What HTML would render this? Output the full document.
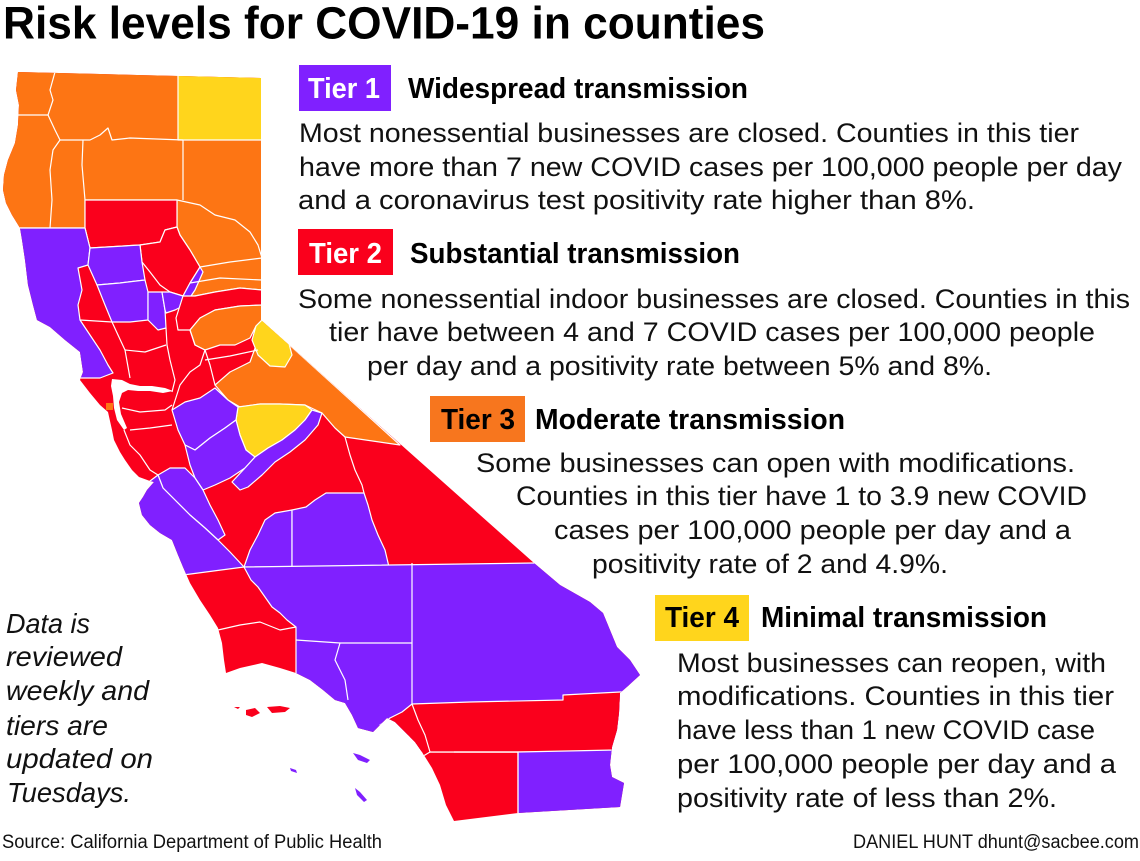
<!DOCTYPE html>
<html><head><meta charset="utf-8"><style>
html,body{margin:0;padding:0;background:#fff;}
svg{display:block;}
text{font-family:"Liberation Sans",Arial,sans-serif;}
.b{font-weight:bold;}
.t{font-size:27px;fill:#111;}
</style></head><body>
<svg width="1140" height="861" viewBox="0 0 1140 861" xmlns="http://www.w3.org/2000/svg">
<rect width="1140" height="861" fill="#fff"/>
<defs>
<clipPath id="ca"><path d="M18,72 L100,74 L178,76 L261,78 L261,320 L534,563 L560,585 L590,602 L603,613 L610,630 L617,647 L630,660 L640,675 L628,686 L620,693 L619,713 L617,730 L612,747 L610,765 L612,777 L624,783 L622,795 L620,807 L518,813 L454,821 L446,805 L440,785 L432,768 L422,752 L415,742 L405,732 L395,722 L387,718 L373,732 L358,728 L352,715 L345,703 L335,700 L323,690 L310,680 L296,673 L280,668 L262,663 L240,668 L226,673 L224,660 L222,643 L218,628 L210,615 L200,600 L190,583 L183,567 L178,555 L172,540 L160,533 L150,525 L142,515 L139,503 L143,497 L147,490 L154,482 L150,481 L139,477 L132,470 L125,460 L120,452 L114,440 L112,430 L108,412 L100,405 L90,393 L80,380 L83,372 L80,352 L65,340 L50,327 L37,320 L33,305 L28,285 L25,260 L22,240 L20,228 L12,215 L6,203 L3,190 L4,175 L8,160 L15,143 L18,125 L19,105 L16,90 Z"/></clipPath>
</defs>
<g clip-path="url(#ca)" stroke="#fff" stroke-width="1.2" stroke-linejoin="round">
<rect x="0" y="60" width="700" height="780" fill="#fa001c" stroke="none"/>
<polygon fill="#fd7514" points="0,50 280,50 280,290 262,290 240,288 215,292 195,296 183,296 190,283 200,267 190,250 180,235 177,227 177,200 85,200 85,228 0,228"/>
<polygon fill="#ffd51c" points="178,50 280,50 280,140 178,140"/>
<polygon fill="#fa001c" points="85,200 177,200 177,227 165,230 160,242 140,245 90,248 85,228"/>
<polygon fill="#fa001c" points="140,245 160,242 165,230 177,227 180,235 190,250 200,267 190,283 183,296 170,292 160,285 150,272 142,262"/>
<polygon fill="#8020ff" points="0,228 85,228 90,248 88,265 78,268 82,290 78,305 80,320 90,335 100,350 108,365 113,373 100,378 0,378"/>
<polygon fill="#8020ff" points="90,248 140,245 142,262 145,280 120,283 97,285 88,265"/>
<polygon fill="#8020ff" points="97,285 120,283 145,280 148,292 148,320 130,322 112,322 105,305"/>
<polygon fill="#8020ff" points="148,292 162,292 165,310 166,328 158,330 148,320"/>
<polygon fill="#8020ff" points="162,292 170,292 183,296 190,283 200,267 203,272 195,290 185,305 175,310 166,313 165,310"/>
<polygon fill="#fa001c" points="176,318 183,296 195,296 215,292 240,288 262,290 262,305 240,306 215,310 200,318 190,330 178,330"/>
<polygon fill="#fd7514" points="190,330 200,318 215,310 240,306 262,305 262,320 256,326 250,338 235,345 220,345 205,350 195,345"/>
<polygon fill="#fd7514" points="215,385 230,372 250,362 258,340 262,320 400,445 345,437 335,428 322,413 305,405 280,404 260,404 240,407 228,400"/>
<polygon fill="#ffd51c" points="256,326 262,320 275,330 288,340 292,355 285,367 270,366 258,355 252,340"/>
<polygon fill="#ffd51c" points="238,407 260,404 280,404 305,405 312,410 305,420 295,430 282,440 268,448 255,457 246,450 240,435 236,420"/>
<polygon fill="#8020ff" points="172,410 185,402 200,398 215,388 228,400 238,407 236,420 225,428 210,438 195,450 185,445 178,430"/>
<polygon fill="#8020ff" points="185,445 195,450 210,438 225,428 236,420 240,435 246,450 255,457 245,468 230,478 215,485 203,490 195,478 190,465"/>
<polygon fill="#8020ff" points="255,457 268,448 282,440 295,430 305,420 312,410 322,413 318,425 305,440 290,452 275,462 262,475 248,487 240,490 232,482 245,468"/>
<polygon fill="#8020ff" points="158,475 170,468 185,468 195,478 203,490 210,505 218,520 225,535 218,540 205,528 190,515 175,500 163,488"/>
<polygon fill="#8020ff" points="130,498 150,481 158,475 163,488 175,500 190,515 205,528 218,540 230,552 244,567 183,575 160,545 135,520"/>
<polygon fill="#8020ff" points="244,567 250,550 258,535 265,520 275,513 292,510 292,567"/>
<polygon fill="#8020ff" points="292,510 306,507 315,500 326,493 364,493 368,505 372,520 378,535 385,550 389,567 292,567"/>
<polygon fill="#8020ff" points="244,567 534,563 700,563 700,752 412,752 296,752 296,640 296,627 287,620 280,613 272,607 265,597 258,587 251,580"/>
<polygon fill="#fa001c" points="412,704 470,702 563,700 563,695 620,692 700,690 700,752 412,752 408,730"/>
<polygon fill="#fa001c" points="380,725 390,718 402,712 412,704 418,720 425,735 430,752 420,758"/>
<polygon fill="#8020ff" points="518,752 615,750 615,777 640,783 640,830 518,830"/>
<rect x="106" y="403" width="7" height="7" fill="#fd7514" stroke="none"/>
<g fill="none">
<polyline points="55,72 50,90 53,100 48,115"/>
<polyline points="18,115 48,115"/>
<polyline points="48,115 55,130 60,140 53,150 50,170 52,200 50,228"/>
<polyline points="60,140 90,140 100,135 108,128 112,140 130,138 183,140"/>
<polyline points="83,140 82,165 85,200"/>
<polyline points="183,140 183,200"/>
<polyline points="177,200 200,205 215,215 235,220 250,232 258,245 262,258"/>
<polyline points="200,267 230,262 262,258"/>
<polyline points="190,283 220,278 262,280"/>
<polyline points="80,320 112,322"/>
<polyline points="112,322 118,335 125,350 130,378"/>
<polyline points="125,350 145,352 166,345"/>
<polyline points="166,328 167,345 170,360 175,380 172,392"/>
<polyline points="190,330 195,345 205,350 200,365 190,372 180,385 172,410"/>
<polyline points="122,408 140,412 165,410 172,405"/>
<polyline points="205,350 210,365 215,385"/>
<polyline points="205,360 230,356 258,350"/>
<polyline points="124,430 130,445 140,455 150,470 158,475"/>
<polyline points="130,430 150,428 172,425"/>
<polyline points="345,437 350,455 355,470 362,485 364,493"/>
<polyline points="218,630 240,625 260,622 280,630 296,627"/>
<polyline points="412,563 412,705"/>
<polyline points="296,640 340,643 412,643"/>
<polyline points="340,643 335,660 345,680 348,700"/>
<polyline points="454,752 518,752 518,820"/>
</g>
<path fill="#fff" stroke="none" d="M112,379 L122,380 L130,384 L140,386 L152,386 L165,388 L173,391 L163,393 L150,391 L138,391 L128,390 L122,393 L119,402 L121,414 L127,428 L124,430 L117,420 L114,408 L113,396 L111,386 Z"/>
</g>
<g stroke="none">
<path fill="#fa001c" d="M246,710 L255,708 L260,713 L252,717 L246,715 Z"/>
<path fill="#fa001c" d="M267,707 L280,706 L290,708 L285,712 L272,713 Z"/>
<path fill="#fa001c" d="M234,707 L240,707 L238,709 Z"/>
<path fill="#8020ff" d="M353,753 L360,755 L370,760 L367,763 L358,760 Z"/>
<path fill="#8020ff" d="M290,768 L296,770 L297,773 L291,771 Z"/>
<path fill="#8020ff" d="M355,788 L360,792 L367,800 L364,802 L357,795 Z"/>
</g>

<text x="3" y="38.5" class="b" font-size="45" fill="#000" textLength="762" lengthAdjust="spacingAndGlyphs">Risk levels for COVID-19 in counties</text>

<rect x="299" y="65" width="92" height="46" fill="#8020ff"/>
<text x="308" y="98" class="b" font-size="29" fill="#fff" textLength="72" lengthAdjust="spacingAndGlyphs">Tier 1</text>
<text x="408" y="98" class="b" font-size="29" fill="#000" textLength="340" lengthAdjust="spacingAndGlyphs">Widespread transmission</text>
<text x="299" y="142" class="t" textLength="780" lengthAdjust="spacingAndGlyphs">Most nonessential businesses are closed. Counties in this tier</text>
<text x="299" y="176" class="t" textLength="823" lengthAdjust="spacingAndGlyphs">have more than 7 new COVID cases per 100,000 people per day</text>
<text x="298" y="209" class="t" textLength="677" lengthAdjust="spacingAndGlyphs">and a coronavirus test positivity rate higher than 8%.</text>

<rect x="298" y="229" width="95" height="46" fill="#fa001c"/>
<text x="309" y="263" class="b" font-size="29" fill="#fff" textLength="73" lengthAdjust="spacingAndGlyphs">Tier 2</text>
<text x="410" y="263" class="b" font-size="29" fill="#000" textLength="330" lengthAdjust="spacingAndGlyphs">Substantial transmission</text>
<text x="298" y="308" class="t" textLength="832" lengthAdjust="spacingAndGlyphs">Some nonessential indoor businesses are closed. Counties in this</text>
<text x="329" y="341" class="t" textLength="766" lengthAdjust="spacingAndGlyphs">tier have between 4 and 7 COVID cases per 100,000 people</text>
<text x="367" y="375" class="t" textLength="625" lengthAdjust="spacingAndGlyphs">per day and a positivity rate between 5% and 8%.</text>

<rect x="430" y="396" width="95" height="46" fill="#f7761e"/>
<text x="441" y="429" class="b" font-size="29" fill="#000" textLength="74" lengthAdjust="spacingAndGlyphs">Tier 3</text>
<text x="535" y="429" class="b" font-size="29" fill="#000" textLength="310" lengthAdjust="spacingAndGlyphs">Moderate transmission</text>
<text x="476" y="472" class="t" textLength="599" lengthAdjust="spacingAndGlyphs">Some businesses can open with modifications.</text>
<text x="516" y="505" class="t" textLength="571" lengthAdjust="spacingAndGlyphs">Counties in this tier have 1 to 3.9 new COVID</text>
<text x="554" y="539" class="t" textLength="517" lengthAdjust="spacingAndGlyphs">cases per 100,000 people per day and a</text>
<text x="592" y="573" class="t" textLength="356" lengthAdjust="spacingAndGlyphs">positivity rate of 2 and 4.9%.</text>

<rect x="655" y="595" width="94" height="46" fill="#ffd51c"/>
<text x="665" y="627" class="b" font-size="29" fill="#000" textLength="74" lengthAdjust="spacingAndGlyphs">Tier 4</text>
<text x="761" y="627" class="b" font-size="29" fill="#000" textLength="286" lengthAdjust="spacingAndGlyphs">Minimal transmission</text>
<text x="677" y="672" class="t" textLength="429" lengthAdjust="spacingAndGlyphs">Most businesses can reopen, with</text>
<text x="677" y="705" class="t" textLength="437" lengthAdjust="spacingAndGlyphs">modifications. Counties in this tier</text>
<text x="677" y="739" class="t" textLength="418" lengthAdjust="spacingAndGlyphs">have less than 1 new COVID case</text>
<text x="677" y="773" class="t" textLength="439" lengthAdjust="spacingAndGlyphs">per 100,000 people per day and a</text>
<text x="677" y="807" class="t" textLength="380" lengthAdjust="spacingAndGlyphs">positivity rate of less than 2%.</text>

<g font-size="28" font-style="italic" fill="#111">
<text x="6" y="633" textLength="84" lengthAdjust="spacingAndGlyphs">Data is</text>
<text x="6" y="666" textLength="116" lengthAdjust="spacingAndGlyphs">reviewed</text>
<text x="6" y="700" textLength="143" lengthAdjust="spacingAndGlyphs">weekly and</text>
<text x="6" y="735" textLength="102" lengthAdjust="spacingAndGlyphs">tiers are</text>
<text x="6" y="768" textLength="147" lengthAdjust="spacingAndGlyphs">updated on</text>
<text x="7" y="802" textLength="124" lengthAdjust="spacingAndGlyphs">Tuesdays.</text>
</g>

<text x="2" y="848" font-size="19" fill="#111" textLength="380" lengthAdjust="spacingAndGlyphs">Source: California Department of Public Health</text>
<text x="853" y="848" font-size="19" fill="#111" textLength="286" lengthAdjust="spacingAndGlyphs">DANIEL HUNT dhunt@sacbee.com</text>
</svg>
</body></html>
